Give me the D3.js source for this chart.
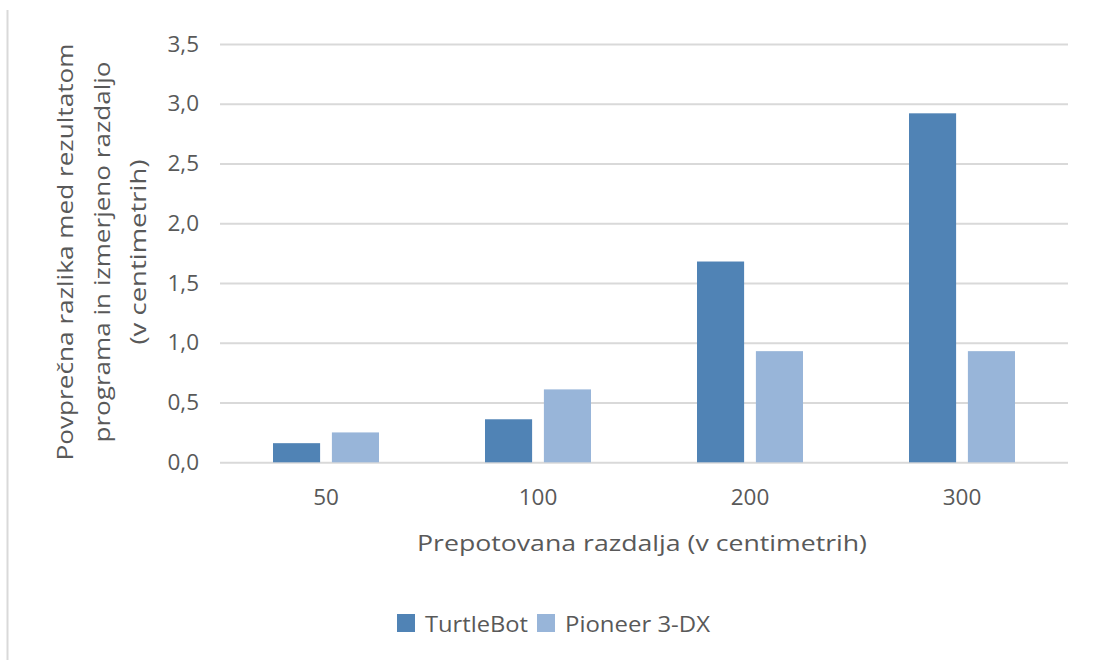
<!DOCTYPE html>
<html>
<head>
<meta charset="utf-8">
<script src="https://cdn.jsdelivr.net/npm/d3@7"></script>
<style>
  html, body { margin: 0; padding: 0; background: #fff; }
  svg { display: block; }
  text { font-family: "Open Sans", "Liberation Sans", sans-serif; fill: #595959; }
</style>
</head>
<body>
<svg id="chart" width="1095" height="660"></svg>
<script>
const categories = ["50", "100", "200", "300"];
const seriesNames = ["TurtleBot", "Pioneer 3-DX"];
const turtleBot = [0.16, 0.36, 1.68, 2.92];
const pioneer = [0.25, 0.61, 0.93, 0.93];
const yTicks = [0, 0.5, 1.0, 1.5, 2.0, 2.5, 3.0, 3.5];
const yTitleLines = ["Povprečna razlika med rezultatom", "programa in izmerjeno razdaljo", "(v centimetrih)"];
const xTitle = "Prepotovana razdalja (v centimetrih)";
const colors = ["#5083b5", "#98b5d9"];

const values = [turtleBot, pioneer];
const svg = d3.select("#chart");

// left frame line
svg.append("line").attr("x1", 7.5).attr("x2", 7.5).attr("y1", 10).attr("y2", 660)
  .attr("stroke", "#d9d9d9").attr("stroke-width", 2);

const x0 = d3.scaleBand().domain(categories).range([220, 1068]).paddingInner(0).paddingOuter(0);
const x1 = d3.scaleBand().domain(seriesNames).range([-53, 53]).paddingInner(0.2).paddingOuter(0);
const y = d3.scaleLinear().domain([0, 3.5]).range([462.3, 44]);

const fmt = v => d3.format(".1f")(v).replace(".", ",");

// gridlines via axis
const yGrid = d3.axisLeft(y).tickValues(yTicks).tickSize(-(1068 - 220)).tickFormat("");
const gGrid = svg.append("g").attr("transform", "translate(220,0)").call(yGrid);
gGrid.select(".domain").remove();
gGrid.selectAll(".tick line").attr("stroke", "#d9d9d9").attr("stroke-width", 2);

// y tick labels
const yAxis = d3.axisLeft(y).tickValues(yTicks).tickSize(0).tickPadding(0).tickFormat(fmt);
const gY = svg.append("g").attr("transform", "translate(199,0)").call(yAxis);
gY.select(".domain").remove();
gY.selectAll(".tick text").attr("font-size", 22.5).attr("fill", "#595959")
  .style("font-family", "'Open Sans', sans-serif");

// bars
const groups = svg.append("g").selectAll("g").data(categories).join("g")
  .attr("transform", d => `translate(${x0(d) + x0.bandwidth() / 2},0)`);
groups.selectAll("rect").data((d, i) => seriesNames.map((s, j) => ({ s, v: values[j][i], j })))
  .join("rect")
  .attr("x", d => x1(d.s))
  .attr("width", x1.bandwidth())
  .attr("y", d => y(d.v))
  .attr("height", d => y(0) - y(d.v))
  .attr("fill", d => colors[d.j]);

// x tick labels
const xAxis = d3.axisBottom(x0).tickSize(0).tickPadding(0);
const gX = svg.append("g").attr("transform", "translate(0,462)").call(xAxis);
gX.select(".domain").remove();
gX.selectAll(".tick text").attr("font-size", 22.5).attr("fill", "#595959")
  .attr("dy", 0).attr("y", 43)
  .style("font-family", "'Open Sans', sans-serif");

// x title
svg.append("text").attr("x", 642).attr("y", 551).attr("text-anchor", "middle")
  .attr("font-size", 22.5).attr("textLength", 450).attr("lengthAdjust", "spacingAndGlyphs")
  .text(xTitle);

// y title
const yTitleX = [65, 102, 138];
const yTitleLen = [417, 381, 185];
yTitleLines.forEach((t, i) => {
  svg.append("text")
    .attr("transform", `translate(${yTitleX[i]},252) rotate(-90)`)
    .attr("text-anchor", "middle").attr("dy", "0.35em")
    .attr("font-size", 22.5)
    .attr("textLength", yTitleLen[i]).attr("lengthAdjust", "spacingAndGlyphs")
    .text(t);
});

// legend
const legendX = [397, 537];
const legendTextLen = [103, 145];
const lg = svg.append("g").selectAll("g").data(seriesNames).join("g");
lg.append("rect").attr("x", (d, i) => legendX[i]).attr("y", 614).attr("width", 18).attr("height", 18)
  .attr("fill", (d, i) => colors[i]);
lg.append("text").attr("x", (d, i) => legendX[i] + 28).attr("y", 632)
  .attr("font-size", 22.5)
  .attr("textLength", (d, i) => legendTextLen[i]).attr("lengthAdjust", "spacingAndGlyphs")
  .text(d => d);
</script>
</body>
</html>
